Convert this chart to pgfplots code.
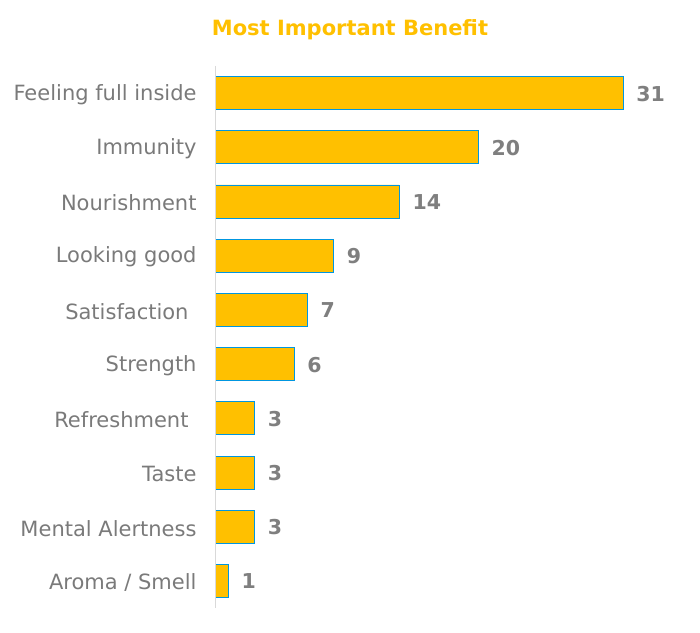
\documentclass[border=0pt]{standalone}
\usepackage{pgfplots}
\pgfplotsset{compat=1.18}
\usepackage{fontspec}
\setmainfont{DejaVu Sans}
\definecolor{gold}{HTML}{FFC000}
\definecolor{barblue}{HTML}{0096E0}
\definecolor{lbl}{HTML}{7A7A7A}
\definecolor{val}{HTML}{7F7F7F}
\definecolor{axl}{HTML}{D9D9D9}
\begin{document}
\begin{tikzpicture}[x=1pt,y=1pt]
\useasboundingbox (0,0) rectangle (700,632);
\node[text=gold, font=\fontsize{21}{24}\selectfont\bfseries] at (350,602) {Most Important Benefit};
\begin{axis}[
  at={(215pt,24pt)}, anchor=south west,
  scale only axis, width=460.6pt, height=542pt,
  xbar, bar width=33pt,
  xmin=0, xmax=35, ymin=-0.5, ymax=9.5,
  y dir=reverse,
  ytick={0,...,9},
  yticklabels={Feeling full inside, Immunity, Nourishment, Looking good, Satisfaction\rule{8pt}{0pt}, Strength, Refreshment\rule{8pt}{0pt}, Taste, Mental Alertness, Aroma / Smell},
  xtick=\empty,
  axis line style={draw=none},
  ytick style={draw=none},
  yticklabel style={font=\fontsize{21}{24}\selectfont, text=lbl, inner sep=0pt, anchor=east, yshift=-1.5pt},
  yticklabel shift=14pt,
  /pgf/number format/assume math mode=true,
  nodes near coords,
  every node near coord/.append style={font=\fontsize{20.5}{24}\selectfont\bfseries, text=val, anchor=west, inner sep=0pt, xshift=13pt, yshift=-0.5pt},
  clip=false,
  extra description/.code={\draw[axl, line width=1pt] (axis cs:0,-0.5) -- (axis cs:0,9.5);},
]
\addplot[draw=barblue, fill=gold, line width=0.9pt] coordinates {
  (31,0) (20,1) (14,2) (9,3) (7,4) (6,5) (3,6) (3,7) (3,8) (1,9)
};
\end{axis}
\end{tikzpicture}
\end{document}
